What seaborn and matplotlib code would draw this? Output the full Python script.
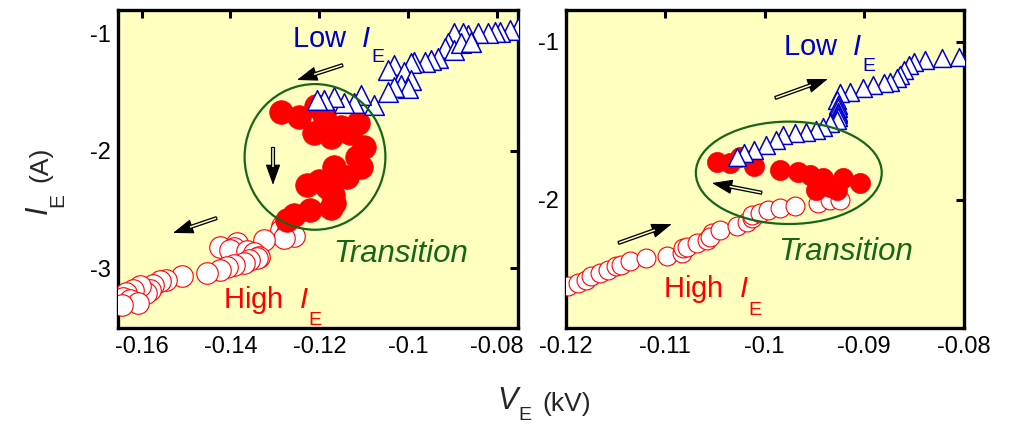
import matplotlib
matplotlib.use("Agg")
import matplotlib.pyplot as plt
from matplotlib.patches import Ellipse
import numpy as np
import pandas as pd
import seaborn as sns

sns.set_style("white")
plt.rcParams["font.family"] = ["Liberation Sans", "DejaVu Sans"]
plt.rcParams["mathtext.fontset"] = "custom"
plt.rcParams["mathtext.rm"] = "Liberation Sans"
plt.rcParams["mathtext.it"] = "Liberation Sans:italic"
plt.rcParams["axes.unicode_minus"] = False

BG = "#FFFFC0"
GREEN = "#176617"
RED = "#FF0000"
BLUE = "#0000CC"

# ---- Decreasing sweep (left panel) ----
left_low_v = [-0.0753, -0.0771, -0.0794, -0.0805, -0.0820, -0.0843, -0.0866, -0.0877,
              -0.0896, -0.0911, -0.0918, -0.0896, -0.0881, -0.0858, -0.0933, -0.0948,
              -0.0963, -0.0986, -0.0994, -0.1031, -0.1046, -0.1009, -0.0994, -0.1016,
              -0.1001, -0.1031, -0.1046, -0.1076, -0.1107, -0.1122, -0.1144, -0.1167,
              -0.1189, -0.1205]
left_low_i = [-0.957, -0.972, -0.986, -0.986, -1.000, -1.000, -1.014, -1.000,
              -1.000, -1.085, -1.128, -1.142, -1.085, -1.071, -1.213, -1.227,
              -1.241, -1.241, -1.255, -1.270, -1.312, -1.326, -1.397, -1.440,
              -1.468, -1.454, -1.496, -1.610, -1.525, -1.596, -1.596, -1.539,
              -1.567, -1.567]

left_trans_v = [-0.1287, -0.1246, -0.1208, -0.1189, -0.1212, -0.1174, -0.1152, -0.1114,
                -0.1130, -0.1099, -0.1115, -0.1107, -0.1137, -0.1167, -0.1227, -0.1200,
                -0.1182, -0.1170, -0.1167, -0.1174, -0.1220, -0.1257, -0.1272]
left_trans_i = [-1.667, -1.709, -1.620, -1.695, -1.851, -1.879, -1.794, -1.766,
                -1.850, -1.965, -2.050, -2.135, -2.220, -2.135, -2.291, -2.260,
                -2.305, -2.380, -2.447, -2.489, -2.504, -2.546, -2.589]

left_high_v = [-0.1272, -0.1284, -0.1287, -0.1272, -0.1257, -0.1280, -0.1325, -0.1385,
               -0.1423, -0.1393, -0.1400, -0.1363, -0.1348, -0.1336, -0.1340, -0.1359,
               -0.1370, -0.1393, -0.1408, -0.1423, -0.1453, -0.1510, -0.1544, -0.1559,
               -0.1574, -0.1581, -0.1589, -0.1604, -0.1619, -0.1634, -0.1641, -0.1626,
               -0.1608, -0.1645]
left_high_i = [-2.603, -2.645, -2.674, -2.702, -2.730, -2.745, -2.759, -2.787,
               -2.816, -2.830, -2.844, -2.858, -2.872, -2.901, -2.915, -2.929,
               -2.957, -2.972, -2.986, -3.014, -3.043, -3.071, -3.099, -3.113,
               -3.142, -3.184, -3.213, -3.156, -3.184, -3.213, -3.255, -3.270,
               -3.298, -3.312]

# ---- Increasing sweep (right panel) ----
right_low_v = [-0.0805, -0.0822, -0.0839, -0.0850, -0.0855, -0.0860, -0.0864, -0.0867,
               -0.0874, -0.0880, -0.0891, -0.0901, -0.0914, -0.0924, -0.0927, -0.0926,
               -0.0926, -0.0926, -0.0926, -0.0926, -0.0927, -0.0934, -0.0941, -0.0948,
               -0.0958, -0.0969, -0.0981, -0.0988, -0.0998, -0.1011, -0.1021, -0.1028]
right_low_i = [-1.095, -1.105, -1.116, -1.126, -1.147, -1.179, -1.211, -1.232,
               -1.253, -1.263, -1.274, -1.295, -1.316, -1.326, -1.368, -1.400,
               -1.420, -1.442, -1.460, -1.474, -1.495, -1.516, -1.537, -1.558,
               -1.568, -1.579, -1.589, -1.621, -1.653, -1.684, -1.705, -1.726]

right_trans_v = [-0.1048, -0.1035, -0.1025, -0.1011, -0.0984, -0.0966, -0.0954, -0.0941,
                 -0.0948, -0.0934, -0.0921, -0.0904, -0.0927]
right_trans_i = [-1.758, -1.768, -1.730, -1.789, -1.811, -1.821, -1.842, -1.863,
                 -1.937, -1.916, -1.863, -1.895, -1.937]

right_high_v = [-0.1197, -0.1187, -0.1179, -0.1174, -0.1165, -0.1157, -0.1149, -0.1144,
                -0.1135, -0.1119, -0.1098, -0.1083, -0.1082, -0.1078, -0.1068, -0.1058,
                -0.1053, -0.1055, -0.1045, -0.1028, -0.1018, -0.1013, -0.1013, -0.1005,
                -0.0996, -0.0984, -0.0969, -0.0946, -0.0934, -0.0924]
right_high_i = [-2.547, -2.526, -2.505, -2.484, -2.463, -2.442, -2.421, -2.411,
                -2.389, -2.368, -2.358, -2.337, -2.305, -2.295, -2.274, -2.253,
                -2.211, -2.232, -2.189, -2.168, -2.137, -2.116, -2.095, -2.084,
                -2.063, -2.053, -2.042, -2.021, -2.000, -2.000]

left_xticks = [-0.16, -0.14, -0.12, -0.1, -0.08]
left_yticks = [-1, -2, -3]
right_xticks = [-0.12, -0.11, -0.1, -0.09, -0.08]
right_yticks = [-1, -2]

W, H = 1010, 424
fig = plt.figure(figsize=(W / 100, H / 100), dpi=100)
ax1 = fig.add_axes([118 / W, 1 - 328 / H, 400 / W, 318 / H])
ax2 = fig.add_axes([565.5 / W, 1 - 328 / H, 398 / W, 318 / H])


def draw_panel(ax, hv, hi, tv, ti, lv, li, sizes):
    s_high, s_trans, s_low = sizes
    high = pd.DataFrame({"V": hv, "I": hi})
    trans = pd.DataFrame({"V": tv, "I": ti})
    low = pd.DataFrame({"V": lv, "I": li})
    sns.scatterplot(data=high, x="V", y="I", ax=ax, marker="o", s=s_high,
                    facecolor="white", edgecolor=RED, linewidth=0.8, zorder=3)
    sns.scatterplot(data=trans, x="V", y="I", ax=ax, marker="o", s=s_trans,
                    facecolor=RED, edgecolor=RED, linewidth=0.5, zorder=4)
    sns.scatterplot(data=low, x="V", y="I", ax=ax, marker="^", s=s_low,
                    facecolor="white", edgecolor=BLUE, linewidth=1.1, zorder=5)


draw_panel(ax1, left_high_v, left_high_i, left_trans_v, left_trans_i,
           left_low_v, left_low_i, (240, 290, 200))
draw_panel(ax2, right_high_v, right_high_i, right_trans_v, right_trans_i,
           right_low_v, right_low_i, (185, 210, 165))

ax1.set_xlim(-0.1653, -0.0753)
ax1.set_ylim(-3.51, -0.80)
ax2.set_xlim(-0.12, -0.08)
ax2.set_ylim(-2.81, -0.80)

for ax, xt, yt in [(ax1, left_xticks, left_yticks), (ax2, right_xticks, right_yticks)]:
    ax.set_facecolor(BG)
    ax.set_xticks(xt)
    ax.set_yticks(yt)
    ax.set_xticklabels([f"{v:g}" for v in xt])
    ax.set_yticklabels([f"{v:g}" for v in yt])
    ax.tick_params(direction="in", length=6, width=2.2, labelsize=17,
                   top=True, right=True, colors="black")
    ax.tick_params(axis="x", pad=6)
    ax.tick_params(axis="y", pad=5)
    for sp in ax.spines.values():
        sp.set_linewidth(2.4)
        sp.set_color("black")
    ax.set_xlabel("")
    ax.set_ylabel("")


def double_arrow(ax, start, end, head_px=18.0):
    """Arrow with a hollow (double-line) shaft and a solid head, in axes fraction."""
    bb = ax.get_position()
    wpx, hpx = bb.width * W, bb.height * H
    sx, sy = start
    ex, ey = end
    length = np.hypot((ex - sx) * wpx, (ey - sy) * hpx)
    f = 1 - head_px / length
    bx, by = sx + (ex - sx) * f, sy + (ey - sy) * f
    ax.annotate("", xy=end, xytext=start, xycoords="axes fraction",
                textcoords="axes fraction",
                arrowprops=dict(arrowstyle="-|>,head_length=1.0,head_width=0.36",
                                mutation_scale=13, lw=0.8, color="black",
                                shrinkA=0, shrinkB=0), zorder=6)
    ax.plot([sx, bx + (ex - sx) * 0.04], [sy, by + (ey - sy) * 0.04],
            transform=ax.transAxes, color="black", linewidth=3.0,
            solid_capstyle="butt", zorder=7)
    ax.plot([sx + (ex - sx) * 0.02, bx], [sy + (ey - sy) * 0.02, by],
            transform=ax.transAxes, color=BG, linewidth=1.1,
            solid_capstyle="butt", zorder=8)


double_arrow(ax1, (0.5625, 0.827), (0.4475, 0.780))
double_arrow(ax1, (0.3875, 0.569), (0.3875, 0.450))
double_arrow(ax1, (0.2475, 0.346), (0.1375, 0.299))
double_arrow(ax2, (0.526, 0.723), (0.659, 0.783))
double_arrow(ax2, (0.494, 0.425), (0.368, 0.456))
double_arrow(ax2, (0.132, 0.267), (0.267, 0.327))

ax1.add_patch(Ellipse((0.4925, 0.538), 0.352, 0.458, transform=ax1.transAxes,
                      fill=False, edgecolor=GREEN, linewidth=1.6, zorder=6))
ax2.add_patch(Ellipse((0.561, 0.488), 0.467, 0.322, transform=ax2.transAxes,
                      fill=False, edgecolor=GREEN, linewidth=1.6, zorder=6))

lab_fs = 21


def sub_label(ax, x, y, text, color):
    t = ax.text(x, y, text + r"  $I$", transform=ax.transAxes, color=color,
                fontsize=lab_fs, va="baseline", ha="left", zorder=9)
    ax.annotate("E", xy=(1, 0), xycoords=t, xytext=(0.0, 2.5),
                textcoords="offset points", color=color, fontsize=14,
                ha="left", va="top", zorder=9)


for ax, (lx, ly), (hx, hy), (tx, ty) in [
        (ax1, (0.435, 0.885), (0.2625, 0.063), (0.5375, 0.208)),
        (ax2, (0.546, 0.858), (0.245, 0.0975), (0.534, 0.214))]:
    sub_label(ax, lx, ly, "Low", BLUE)
    sub_label(ax, hx, hy, "High", RED)
    ax.text(tx, ty, "Transition", transform=ax.transAxes, color=GREEN,
            fontsize=22.5, fontstyle="italic", va="baseline", ha="left", zorder=9)

# y-axis label: italic I, subscript E, unit
yl = dict(rotation=90, rotation_mode="anchor", ha="left", va="baseline")
fig.text(47 / W, 1 - 214 / H, "I", fontsize=22, fontstyle="italic", **yl)
fig.text(63 / W, 1 - 207 / H, "E", fontsize=15, **yl)
fig.text(47 / W, 1 - 182 / H, "(A)", fontsize=19, **yl)

# x-axis label: italic V, subscript E, unit
fig.text(497 / W, 1 - 409 / H, "V", fontsize=22, fontstyle="italic",
         ha="left", va="baseline")
fig.text(518 / W, 1 - 420 / H, "E", fontsize=14, ha="left", va="baseline")
fig.text(542 / W, 1 - 411 / H, "(kV)", fontsize=19, ha="left", va="baseline")

fig.savefig("out.png", dpi=100, facecolor="white")
